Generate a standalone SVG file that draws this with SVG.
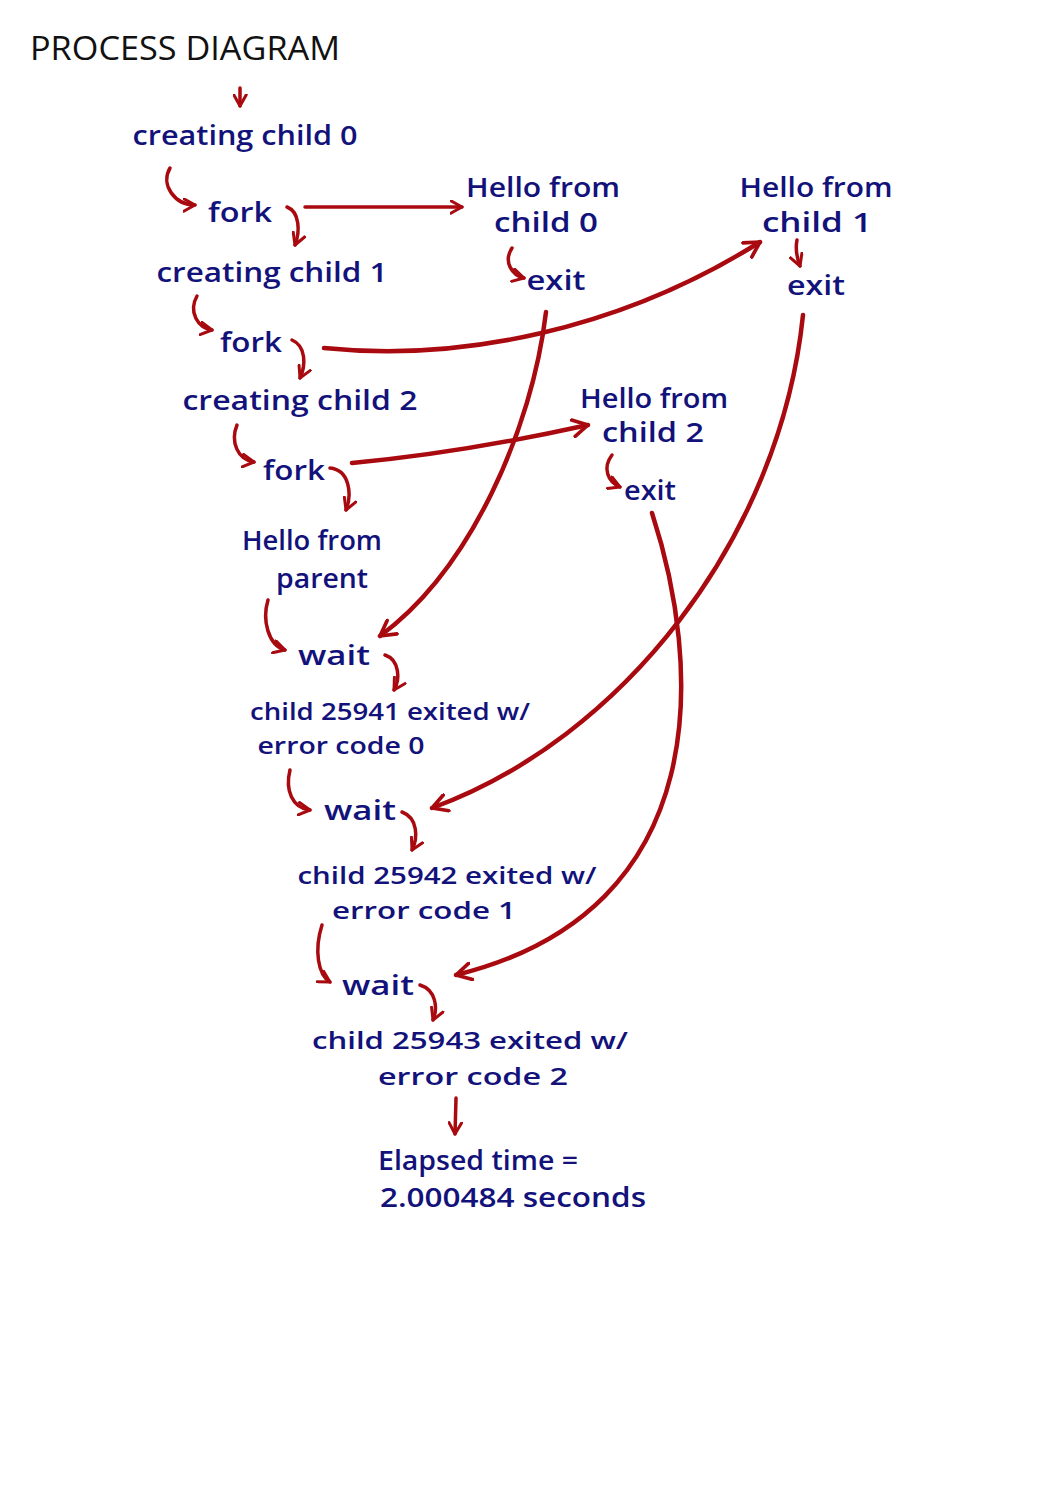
<svg xmlns="http://www.w3.org/2000/svg" width="1061" height="1500" viewBox="0 0 1061 1500">
<style>
.t{font-family:"Open Sans","Liberation Sans",sans-serif;font-size:27px;fill:#12127a;font-weight:600;text-anchor:middle}
.s{font-size:24px}
.ttl{font-family:"Open Sans","Liberation Sans",sans-serif;font-size:32px;fill:#111;text-anchor:start}
.c{fill:none;stroke:#a80a0f;stroke-width:3.5;stroke-linecap:round;marker-end:url(#ah)}
.cl{fill:none;stroke:#a80a0f;stroke-width:4.5;stroke-linecap:round;marker-end:url(#ahl)}
</style>
<defs>
<marker id="ah" viewBox="0 0 12 12" refX="10" refY="6" markerWidth="15" markerHeight="15" markerUnits="userSpaceOnUse" orient="auto">
<path d="M1,1 L10,6 L1,11" fill="none" stroke="#a80a0f" stroke-width="2.4" stroke-linecap="round" stroke-linejoin="round"/>
</marker>
<marker id="ahl" viewBox="0 0 12 12" refX="10" refY="6" markerWidth="20" markerHeight="20" markerUnits="userSpaceOnUse" orient="auto">
<path d="M1,1 L10,6 L1,11" fill="none" stroke="#a80a0f" stroke-width="2.2" stroke-linecap="round" stroke-linejoin="round"/>
</marker>
</defs>
<rect width="1061" height="1500" fill="#fff"/>
<text class="ttl" x="30" y="60" textLength="310" lengthAdjust="spacingAndGlyphs">PROCESS DIAGRAM</text>

<g id="connectors">
<path class="c" d="M240,88 L240,106"/>
<path class="c" d="M170,168 C160,185 175,205 195,205"/>
<path class="c" d="M287,207 C300,212 300,232 295,245"/>
<path class="c" d="M305,207 L462,207"/>
<path class="c" d="M512,248 C503,262 512,275 524,278"/>
<path class="c" d="M197,296 C188,312 198,328 212,330"/>
<path class="c" d="M292,340 C306,346 306,365 300,378"/>
<path class="cl" d="M324,348 C460,362 620,330 760,242"/>
<path class="c" d="M797,240 C795,250 797,258 800,266"/>
<path class="c" d="M237,425 C230,442 238,460 254,462"/>
<path class="c" d="M330,468 C350,470 352,495 346,510"/>
<path class="cl" d="M352,463 C440,455 520,440 588,425"/>
<path class="c" d="M612,455 C602,468 608,482 620,487"/>
<path class="c" d="M268,600 C262,620 268,645 285,650"/>
<path class="c" d="M385,655 C400,660 400,680 394,690"/>
<path class="cl" d="M546,312 C532,430 470,570 380,636"/>
<path class="c" d="M290,770 C285,790 292,808 310,810"/>
<path class="c" d="M402,812 C418,818 418,838 412,850"/>
<path class="cl" d="M803,315 C780,540 620,740 432,808"/>
<path class="c" d="M322,925 C314,950 318,975 330,982"/>
<path class="c" d="M420,985 C436,990 438,1008 433,1020"/>
<path class="cl" d="M652,513 C700,660 720,910 456,975"/>
<path class="c" d="M456,1098 L455,1134"/>
</g>

<g id="n_creating0"><text class="t" x="245" y="145" textLength="225" lengthAdjust="spacingAndGlyphs">creating child 0</text></g>
<g id="n_fork1"><text class="t" x="240" y="222" textLength="64" lengthAdjust="spacingAndGlyphs">fork</text></g>
<g id="n_hello0"><text class="t" x="543" y="197" textLength="154" lengthAdjust="spacingAndGlyphs">Hello from</text><text class="t" x="546" y="232" textLength="104" lengthAdjust="spacingAndGlyphs">child 0</text></g>
<g id="n_exit0"><text class="t" x="556" y="290" textLength="59" lengthAdjust="spacingAndGlyphs">exit</text></g>
<g id="n_creating1"><text class="t" x="272" y="282" textLength="231" lengthAdjust="spacingAndGlyphs">creating child 1</text></g>
<g id="n_fork2"><text class="t" x="251" y="352" textLength="62" lengthAdjust="spacingAndGlyphs">fork</text></g>
<g id="n_hello1"><text class="t" x="816" y="197" textLength="153" lengthAdjust="spacingAndGlyphs">Hello from</text><text class="t" x="817" y="232" textLength="110" lengthAdjust="spacingAndGlyphs">child 1</text></g>
<g id="n_exit1"><text class="t" x="816" y="295" textLength="58" lengthAdjust="spacingAndGlyphs">exit</text></g>
<g id="n_creating2"><text class="t" x="300" y="410" textLength="235" lengthAdjust="spacingAndGlyphs">creating child 2</text></g>
<g id="n_fork3"><text class="t" x="294" y="480" textLength="62" lengthAdjust="spacingAndGlyphs">fork</text></g>
<g id="n_hello2"><text class="t" x="654" y="408" textLength="148" lengthAdjust="spacingAndGlyphs">Hello from</text><text class="t" x="653" y="442" textLength="102" lengthAdjust="spacingAndGlyphs">child 2</text></g>
<g id="n_exit2"><text class="t" x="650" y="500" textLength="52" lengthAdjust="spacingAndGlyphs">exit</text></g>
<g id="n_parent"><text class="t" x="312" y="550" textLength="140" lengthAdjust="spacingAndGlyphs">Hello from</text><text class="t" x="322" y="588" textLength="92" lengthAdjust="spacingAndGlyphs">parent</text></g>
<g id="n_wait1"><text class="t" x="334" y="665" textLength="72" lengthAdjust="spacingAndGlyphs">wait</text></g>
<g id="n_exited0"><text class="t s" x="390" y="720" textLength="280" lengthAdjust="spacingAndGlyphs">child 25941 exited w/</text><text class="t s" x="341" y="754" textLength="167" lengthAdjust="spacingAndGlyphs">error code 0</text></g>
<g id="n_wait2"><text class="t" x="360" y="820" textLength="72" lengthAdjust="spacingAndGlyphs">wait</text></g>
<g id="n_exited1"><text class="t s" x="447" y="884" textLength="299" lengthAdjust="spacingAndGlyphs">child 25942 exited w/</text><text class="t s" x="424" y="919" textLength="184" lengthAdjust="spacingAndGlyphs">error code 1</text></g>
<g id="n_wait3"><text class="t" x="378" y="995" textLength="72" lengthAdjust="spacingAndGlyphs">wait</text></g>
<g id="n_exited2"><text class="t s" x="470" y="1049" textLength="316" lengthAdjust="spacingAndGlyphs">child 25943 exited w/</text><text class="t s" x="473" y="1085" textLength="190" lengthAdjust="spacingAndGlyphs">error code 2</text></g>
<g id="n_elapsed"><text class="t" x="478" y="1170" textLength="200" lengthAdjust="spacingAndGlyphs">Elapsed time =</text><text class="t" x="513" y="1207" textLength="266" lengthAdjust="spacingAndGlyphs">2.000484 seconds</text></g>
</svg>
